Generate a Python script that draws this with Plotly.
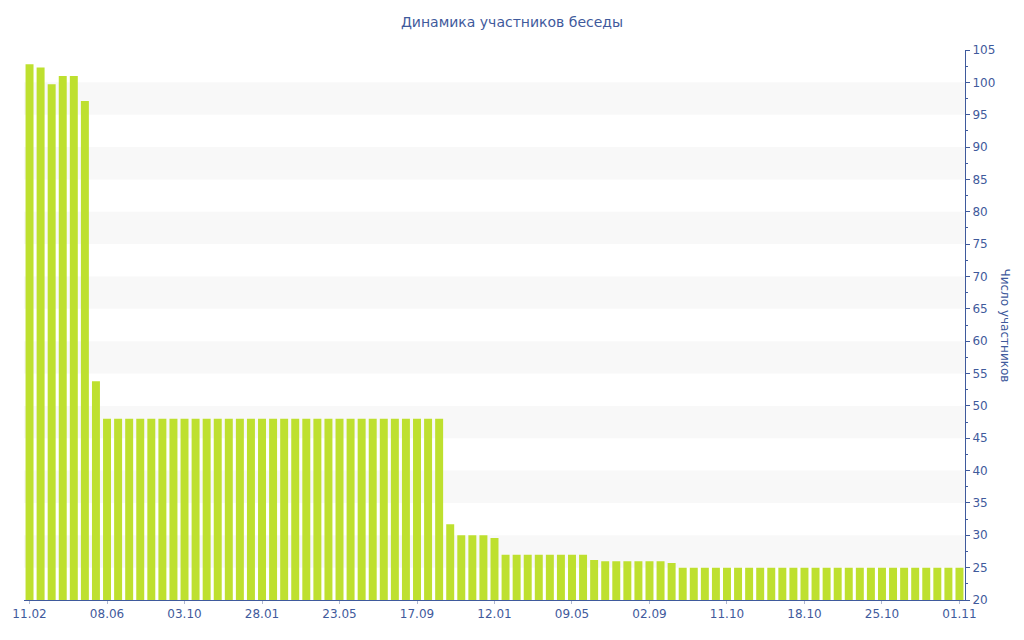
import plotly.graph_objects as go

# Survey dates (one bar per snapshot)
dates = [
    "2013-02-11", "2013-02-28", "2013-03-17", "2013-04-03", "2013-04-20", "2013-05-07", "2013-05-24",
    "2013-06-08", "2013-06-25", "2013-07-12", "2013-07-29", "2013-08-15", "2013-09-01", "2013-09-18",
    "2013-10-03", "2013-10-20", "2013-11-06", "2013-11-23", "2013-12-10", "2013-12-27", "2014-01-12",
    "2014-01-28", "2014-02-14", "2014-03-03", "2014-03-20", "2014-04-06", "2014-04-23", "2014-05-08",
    "2014-05-23", "2014-06-09", "2014-06-26", "2014-07-13", "2014-07-30", "2014-08-16", "2014-09-01",
    "2014-09-17", "2014-10-04", "2014-10-21", "2014-11-07", "2014-11-24", "2014-12-11", "2014-12-27",
    "2015-01-12", "2015-01-29", "2015-02-15", "2015-03-04", "2015-03-21", "2015-04-07", "2015-04-23",
    "2015-05-09", "2015-05-26", "2015-06-12", "2015-06-29", "2015-07-16", "2015-08-02", "2015-08-18",
    "2015-09-02", "2015-09-10", "2015-09-18", "2015-09-24", "2015-09-30", "2015-10-05", "2015-10-08",
    "2015-10-11", "2015-10-12", "2015-10-13", "2015-10-14", "2015-10-15", "2015-10-16", "2015-10-17",
    "2015-10-18", "2015-10-19", "2015-10-20", "2015-10-21", "2015-10-22", "2015-10-23", "2015-10-24",
    "2015-10-25", "2015-10-26", "2015-10-27", "2015-10-28", "2015-10-29", "2015-10-30", "2015-10-31",
    "2015-11-01",
]

# Number of chat members at each date
members = [
    102.8, 102.3, 99.7, 101.0, 101.0, 97.1, 53.8,
    48, 48, 48, 48, 48, 48, 48, 48, 48, 48, 48, 48, 48, 48, 48, 48,
    48, 48, 48, 48, 48, 48, 48, 48, 48, 48, 48, 48, 48, 48, 48,
    31.7, 30.0, 30.0, 30.0, 29.6,
    27, 27, 27, 27, 27, 27, 27, 27,
    26.2, 26, 26, 26, 26, 26, 26, 25.7,
    25, 25, 25, 25, 25, 25, 25, 25, 25, 25, 25, 25, 25,
    25, 25, 25, 25, 25, 25, 25, 25, 25, 25, 25, 25, 25,
]

# Labelled dates on the x axis
tick_dates = ["2013-02-11", "2013-06-08", "2013-10-03", "2014-01-28", "2014-05-23", "2014-09-17",
              "2015-01-12", "2015-05-09", "2015-09-02", "2015-10-11", "2015-10-18", "2015-10-25",
              "2015-11-01"]
tick_labels = ["11.02", "08.06", "03.10", "28.01", "23.05", "17.09", "12.01", "09.05", "02.09",
               "11.10", "18.10", "25.10", "01.11"]

y_min, y_max = 20, 105
band_starts = [25, 35, 45, 55, 65, 75, 85, 95]

BLUE = "#3f5a9c"
FONT = "DejaVu Sans"

fig = go.Figure(go.Bar(
    x=dates,
    y=members,
    marker=dict(color="#bee02f", line=dict(width=0)),
    hovertemplate="%{x}: %{y}<extra></extra>",
))

# Alternating light bands behind the bars
for b in band_starts:
    fig.add_shape(type="rect", xref="paper", yref="y", x0=0, x1=1, y0=b, y1=b + 5,
                  fillcolor="#f8f8f8", line=dict(width=0), layer="below")

fig.update_layout(
    width=1024, height=640,
    margin=dict(l=20, r=59, t=50, b=40),
    paper_bgcolor="white", plot_bgcolor="white",
    bargap=0.28,
    showlegend=False,
    font=dict(family=FONT, color=BLUE, size=12),
    title=dict(text="Динамика участников беседы", x=0.5, xanchor="center",
               y=0.965, yanchor="middle", font=dict(family=FONT, size=14, color=BLUE)),
    xaxis=dict(
        type="category",
        categoryorder="array", categoryarray=dates,
        range=[-0.5, len(dates) - 0.5],
        tickmode="array", tickvals=tick_dates, ticktext=tick_labels,
        ticks="outside", ticklen=3, tickcolor="#b0b8d0",
        showline=True, linecolor=BLUE, linewidth=1,
        showgrid=False, zeroline=False,
        tickfont=dict(family=FONT, size=12, color=BLUE),
    ),
    yaxis=dict(
        side="right",
        range=[y_min, y_max],
        tick0=20, dtick=5,
        ticks="outside", ticklen=4, tickcolor=BLUE,
        minor=dict(ticks="outside", ticklen=2, dtick=2.5, tickcolor=BLUE, showgrid=False),
        showline=True, linecolor=BLUE, linewidth=1,
        showgrid=False, zeroline=False,
        tickfont=dict(family=FONT, size=12, color=BLUE),
    ),
    annotations=[dict(
        text="Число участников", textangle=90,
        xref="paper", yref="paper", x=1.042, y=0.5,
        xanchor="center", yanchor="middle", showarrow=False,
        font=dict(family=FONT, size=12, color=BLUE),
    )],
)

fig.write_html("out.html")
